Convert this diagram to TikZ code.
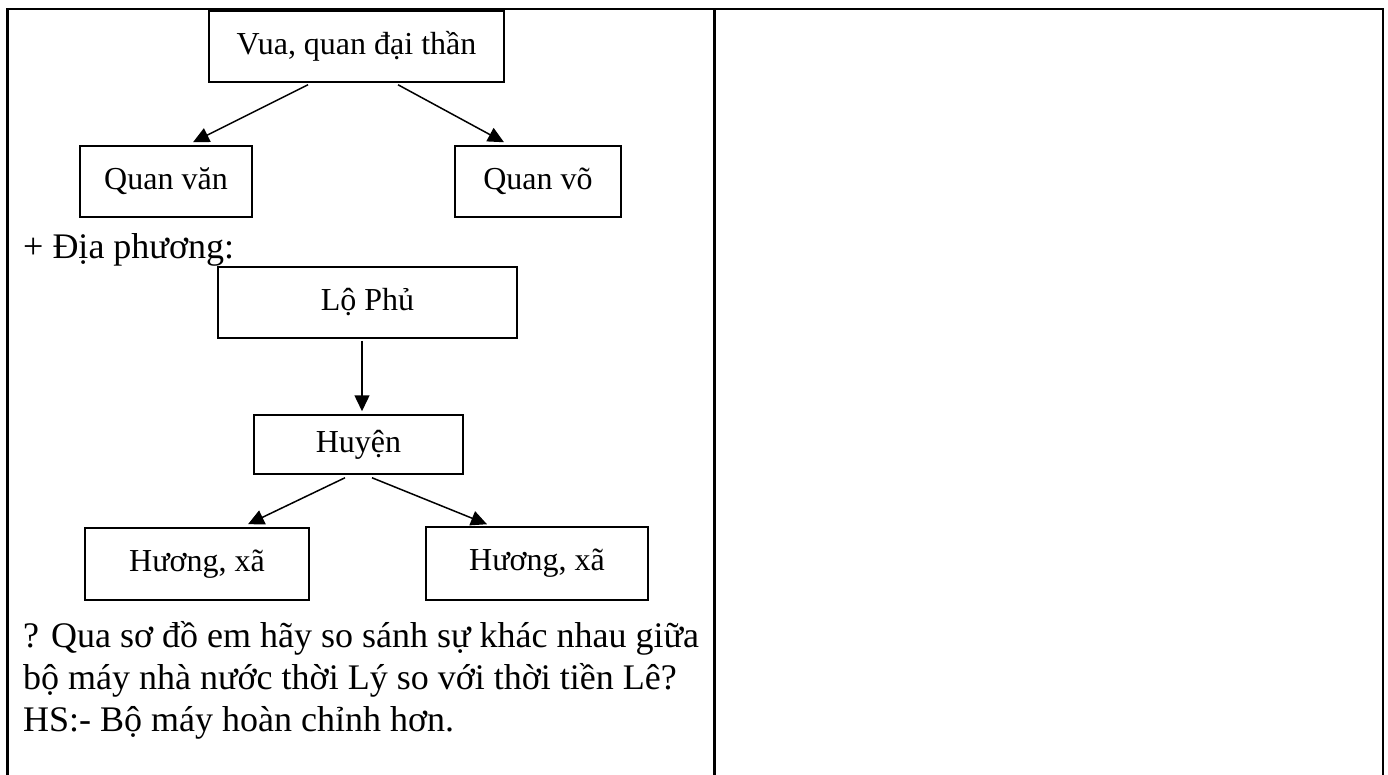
\documentclass[tikz,border=0pt]{standalone}
\usepackage{fontspec}
\setmainfont{Liberation Serif}
\usetikzlibrary{arrows.meta,calc}
\begin{document}
\begin{tikzpicture}[x=1pt,y=-1pt,
  tableline/.style={line width=2.3pt},
  orgbox/.style={draw,line width=1.5pt,rectangle,inner sep=0pt,font=\fontsize{32}{38}\selectfont},
  orgarrow/.style={line width=1.5pt,-{Triangle[length=16pt,width=15pt]}},
  bodytext/.style={anchor=base west,inner sep=0pt,font=\fontsize{36}{42}\selectfont}]
\useasboundingbox (0,0) rectangle (1388,775);
% table frame
\draw[tableline] (7.5,776) -- (7.5,9) -- (1383,9) -- (1383,776);
\draw[tableline] (714.5,9) -- (714.5,776);
% central level
\node[orgbox,minimum width=295pt,minimum height=71pt] (vua) at (356.5,46.5) {Vua, quan đại thần};
\node[orgbox,minimum width=172pt,minimum height=71pt] (van) at (166,181.5) {Quan văn};
\node[orgbox,minimum width=166pt,minimum height=71pt] (vo) at (538,181.5) {Quan võ};
\draw[orgarrow] ($(vua.south)+(-48.5,2)$) -- ($(van.north)+(27,-3)$);
\draw[orgarrow] ($(vua.south)+(41.5,2)$) -- ($(vo.north)+(-34,-3)$);
% local level
\node[bodytext] (dp) at (23,259) {+ Địa phương:};
\node[orgbox,minimum width=299pt,minimum height=71pt] (lo) at (367.5,302.5) {Lộ Phủ};
\node[orgbox,minimum width=209pt,minimum height=59pt] (huyen) at (358.5,444.5) {Huyện};
\node[orgbox,minimum width=224pt,minimum height=72pt] (xa1) at (197,564) {Hương, xã};
\node[orgbox,minimum width=222pt,minimum height=73pt] (xa2) at (537,563.5) {Hương, xã};
\draw[orgarrow] ($(lo.south)+(-5.5,2)$) -- ($(huyen.north)+(3.5,-3)$);
\draw[orgarrow] ($(huyen.south)+(-13.5,3)$) -- ($(xa1.north)+(51,-3)$);
\draw[orgarrow] ($(huyen.south)+(13.5,3)$) -- ($(xa2.north)+(-50,-2)$);
% question text
\node[bodytext] (q1) at (23,647) {? Qua sơ đồ em hãy so sánh sự khác nhau giữa};
\node[bodytext] (q2) at (23,689) {bộ máy nhà nước thời Lý so với thời tiền Lê?};
\node[bodytext] (q3) at (23,731) {HS:- Bộ máy hoàn chỉnh hơn.};
\end{tikzpicture}
\end{document}
